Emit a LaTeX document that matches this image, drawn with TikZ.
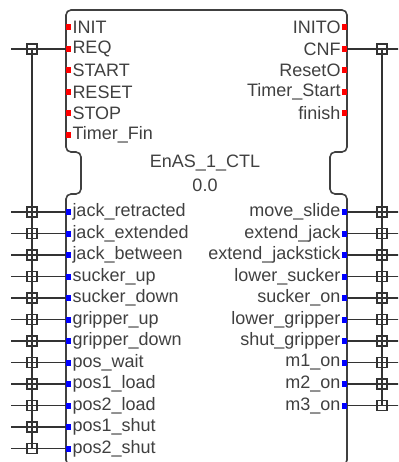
\documentclass[tikz,border=0pt]{standalone}
\usepackage{fontspec}
\setmainfont{Liberation Sans}
\begin{document}
\begin{tikzpicture}[x=1pt,y=-1pt]
        \tikzset{every node/.style = {inner sep=0pt, outer sep=0pt},
                 lbl/.style = {font=\fontsize{18}{18}\selectfont, text=black!75},
                 evport/.style = {fill=red, minimum width=5pt, minimum height=6pt},
                 daport/.style = {fill=blue, minimum width=5pt, minimum height=6pt},
                 jbox/.style = {draw=black!80, line width=1.3pt, minimum size=10pt},
                 wire/.style = {draw=black!80, line width=1.6pt},
                 block/.style = {draw=black!75, line width=1.6pt, rounded corners=5pt}}

        \clip (0,0) rectangle (398,462);

        % function block outline
        \draw[block] (66,152) -- (66,10) -- (347,10) -- (347,152) -- (330,152) -- (330,194)
              -- (347,194) -- (347,465) -- (66,465) -- (66,194) -- (81,194) -- (81,152) -- cycle;

        \node[lbl] (name) at (205,163) {EnAS\_1\_CTL};
        \node[lbl] (ver) at (205,185) {0.0};

        % event inputs
        \node[evport, label={[lbl, label distance=1.5pt]right:INIT}] (init) at (68.5,27) {};
        \node[evport, label={[lbl, label distance=1.5pt]right:REQ}] (req) at (68.5,49) {};
        \node[evport, label={[lbl, label distance=1.5pt]right:START}] (start) at (68.5,70.5) {};
        \node[evport, label={[lbl, label distance=1.5pt]right:RESET}] (reset) at (68.5,92) {};
        \node[evport, label={[lbl, label distance=1.5pt]right:STOP}] (stop) at (68.5,113.5) {};
        \node[evport, label={[lbl, label distance=1.5pt]right:Timer\_Fin}] (tfin) at (68.5,135) {};

        % event outputs
        \node[evport, label={[lbl, label distance=1.5pt]left:INITO}] (inito) at (344.5,27) {};
        \node[evport, label={[lbl, label distance=1.5pt]left:CNF}] (cnf) at (344.5,49) {};
        \node[evport, label={[lbl, label distance=1.5pt]left:ResetO}] (reseto) at (344.5,70.5) {};
        \node[evport, label={[lbl, label distance=1.5pt]left:Timer\_Start}] (tstart) at (344.5,92) {};
        \node[evport, label={[lbl, label distance=1.5pt]left:finish}] (finish) at (344.5,113.5) {};

        % data inputs
        \node[daport, label={[lbl, label distance=1.5pt]right:jack\_retracted}] (jret) at (68.5,212) {};
        \node[daport, label={[lbl, label distance=1.5pt]right:jack\_extended}] (jext) at (68.5,233.5) {};
        \node[daport, label={[lbl, label distance=1.5pt]right:jack\_between}] (jbet) at (68.5,255) {};
        \node[daport, label={[lbl, label distance=1.5pt]right:sucker\_up}] (sup) at (68.5,276.5) {};
        \node[daport, label={[lbl, label distance=1.5pt]right:sucker\_down}] (sdown) at (68.5,298) {};
        \node[daport, label={[lbl, label distance=1.5pt]right:gripper\_up}] (gup) at (68.5,319.5) {};
        \node[daport, label={[lbl, label distance=1.5pt]right:gripper\_down}] (gdown) at (68.5,341) {};
        \node[daport, label={[lbl, label distance=1.5pt]right:pos\_wait}] (pwait) at (68.5,362.5) {};
        \node[daport, label={[lbl, label distance=1.5pt]right:pos1\_load}] (ponel) at (68.5,384) {};
        \node[daport, label={[lbl, label distance=1.5pt]right:pos2\_load}] (ptwol) at (68.5,405.5) {};
        \node[daport, label={[lbl, label distance=1.5pt]right:pos1\_shut}] (pones) at (68.5,427) {};
        \node[daport, label={[lbl, label distance=1.5pt]right:pos2\_shut}] (ptwos) at (68.5,448.5) {};

        % data outputs
        \node[daport, label={[lbl, label distance=1.5pt]left:move\_slide}] (mslide) at (344.5,212) {};
        \node[daport, label={[lbl, label distance=1.5pt]left:extend\_jack}] (ejack) at (344.5,233.5) {};
        \node[daport, label={[lbl, label distance=1.5pt]left:extend\_jackstick}] (ejstick) at (344.5,255) {};
        \node[daport, label={[lbl, label distance=1.5pt]left:lower\_sucker}] (lsucker) at (344.5,276.5) {};
        \node[daport, label={[lbl, label distance=1.5pt]left:sucker\_on}] (son) at (344.5,298) {};
        \node[daport, label={[lbl, label distance=1.5pt]left:lower\_gripper}] (lgripper) at (344.5,319.5) {};
        \node[daport, label={[lbl, label distance=1.5pt]left:shut\_gripper}] (sgripper) at (344.5,341) {};
        \node[daport, label={[lbl, label distance=1.5pt]left:m1\_on}] (mone) at (344.5,362.5) {};
        \node[daport, label={[lbl, label distance=1.5pt]left:m2\_on}] (mtwo) at (344.5,384) {};
        \node[daport, label={[lbl, label distance=1.5pt]left:m3\_on}] (mthree) at (344.5,405.5) {};

        % left adapter junctions
        \node[jbox] (req-j) at (32,49) {};
        \node[jbox] (jret-j) at (32,212) {};
        \node[jbox] (jext-j) at (32,233.5) {};
        \node[jbox] (jbet-j) at (32,255) {};
        \node[jbox] (sup-j) at (32,276.5) {};
        \node[jbox] (sdown-j) at (32,298) {};
        \node[jbox] (gup-j) at (32,319.5) {};
        \node[jbox] (gdown-j) at (32,341) {};
        \node[jbox] (pwait-j) at (32,362.5) {};
        \node[jbox] (ponel-j) at (32,384) {};
        \node[jbox] (ptwol-j) at (32,405.5) {};
        \node[jbox] (pones-j) at (32,427) {};
        \node[jbox] (ptwos-j) at (32,448.5) {};

        % right adapter junctions
        \node[jbox] (cnf-j) at (382,49) {};
        \node[jbox] (mslide-j) at (382,212) {};
        \node[jbox] (ejack-j) at (382,233.5) {};
        \node[jbox] (ejstick-j) at (382,255) {};
        \node[jbox] (lsucker-j) at (382,276.5) {};
        \node[jbox] (son-j) at (382,298) {};
        \node[jbox] (lgripper-j) at (382,319.5) {};
        \node[jbox] (sgripper-j) at (382,341) {};
        \node[jbox] (mone-j) at (382,362.5) {};
        \node[jbox] (mtwo-j) at (382,384) {};
        \node[jbox] (mthree-j) at (382,405.5) {};

        % free wire ends
        \coordinate (l-e) at (11,0);
        \coordinate (r-e) at (400,0);

        \draw[wire] (req-j.center) -- (ptwos-j.center);
        \draw[wire] (cnf-j.center) -- (mthree-j.center);

        \draw[wire] (l-e |- req) -- (req);
        \draw[wire] (l-e |- jret) -- (jret);
        \draw[wire] (l-e |- jext) -- (jext);
        \draw[wire] (l-e |- jbet) -- (jbet);
        \draw[wire] (l-e |- sup) -- (sup);
        \draw[wire] (l-e |- sdown) -- (sdown);
        \draw[wire] (l-e |- gup) -- (gup);
        \draw[wire] (l-e |- gdown) -- (gdown);
        \draw[wire] (l-e |- pwait) -- (pwait);
        \draw[wire] (l-e |- ponel) -- (ponel);
        \draw[wire] (l-e |- ptwol) -- (ptwol);
        \draw[wire] (l-e |- pones) -- (pones);
        \draw[wire] (l-e |- ptwos) -- (ptwos);

        \draw[wire] (cnf) -- (r-e |- cnf);
        \draw[wire] (mslide) -- (r-e |- mslide);
        \draw[wire] (ejack) -- (r-e |- ejack);
        \draw[wire] (ejstick) -- (r-e |- ejstick);
        \draw[wire] (lsucker) -- (r-e |- lsucker);
        \draw[wire] (son) -- (r-e |- son);
        \draw[wire] (lgripper) -- (r-e |- lgripper);
        \draw[wire] (sgripper) -- (r-e |- sgripper);
        \draw[wire] (mone) -- (r-e |- mone);
        \draw[wire] (mtwo) -- (r-e |- mtwo);
        \draw[wire] (mthree) -- (r-e |- mthree);

    \end{tikzpicture}
\end{document}
